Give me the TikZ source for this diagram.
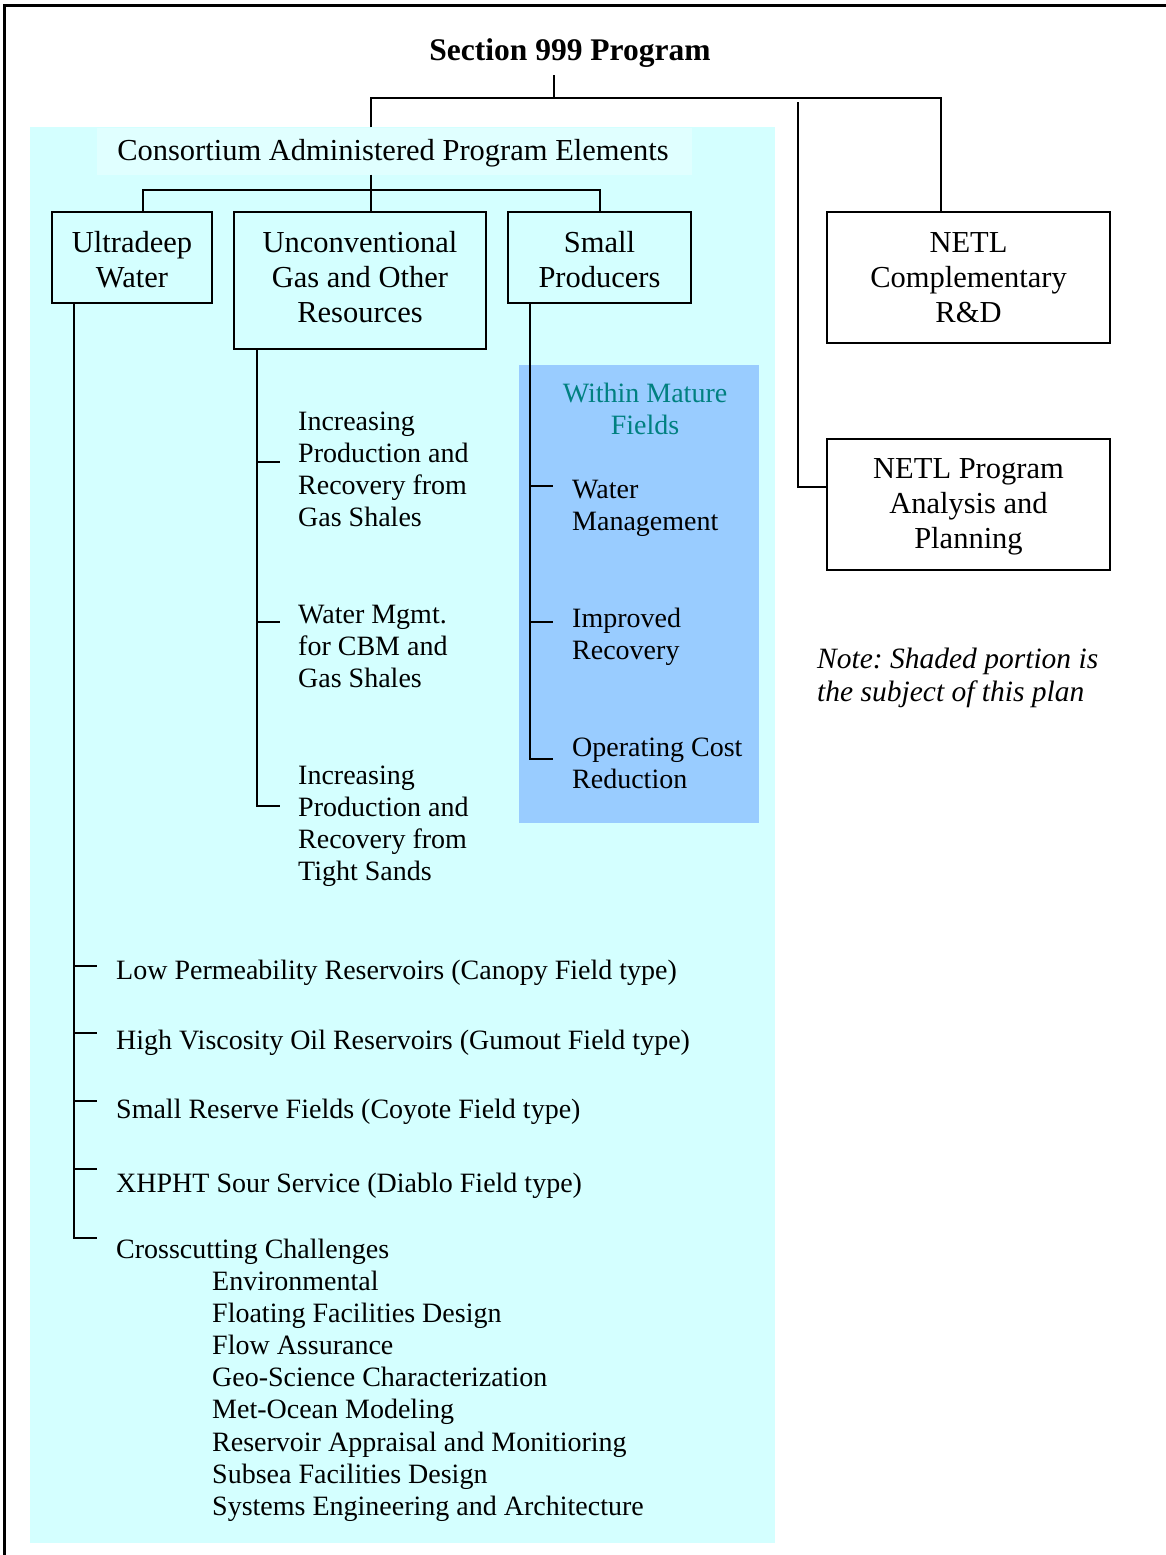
\documentclass[tikz,border=0pt]{standalone}
\usepackage{fontspec}
\setmainfont{Liberation Serif}
\frenchspacing
\definecolor{shadecyan}{RGB}{212,255,255}
\definecolor{labelcyan}{RGB}{224,255,255}
\definecolor{maturefill}{RGB}{153,204,255}
\definecolor{maturetext}{RGB}{0,128,128}
% multi-line text blocks: baseline of the block = baseline of its first line
\newcommand\linesL[1]{\begin{tabular}[t]{@{}l@{}}#1\end{tabular}}
\newcommand\linesC[1]{\begin{tabular}[t]{@{}c@{}}#1\end{tabular}}

\begin{document}
\begin{tikzpicture}[x=1pt,y=-1pt,
  every node/.style={inner sep=0pt, font=\fontsize{30.5}{35}\selectfont},
  conn/.style={line width=2pt},
  orgbox/.style={draw, line width=2.2pt},
  boxtext/.style={anchor=base, font=\fontsize{30.5}{35}\selectfont},
  itemtext/.style={anchor=base west, font=\fontsize{28}{32.2}\selectfont}]

\useasboundingbox (0,0) rectangle (1166,1555);
\clip (0,0) rectangle (1166,1555);

% shaded regions
\fill[shadecyan] (30,127) rectangle (775,1543);
\node[fill=labelcyan, minimum width=595pt, minimum height=47pt] (cons) at (394.5,151) {};
\node[anchor=base] (conslbl) at (393,160) {Consortium Administered Program Elements};
\fill[maturefill] (519,365) rectangle (759,823);

% outer frame
\draw[line width=3pt] (4.5,5.5) rectangle (1180,1570);

% title
\node[anchor=base, font=\bfseries\fontsize{31.5}{34}\selectfont, inner ysep=8pt] (title) at (570,60) {Section 999 Program};

% boxes
\node[orgbox, minimum width=160pt, minimum height=91pt] (ultra) at (132,257.5) {};
\node[orgbox, minimum width=252pt, minimum height=137pt] (uncon) at (360,280.5) {};
\node[orgbox, minimum width=183pt, minimum height=91pt] (small) at (599.5,257.5) {};
\node[orgbox, minimum width=283pt, minimum height=131pt] (netlc) at (968.5,277.5) {};
\node[orgbox, minimum width=283pt, minimum height=131pt] (netlp) at (968.5,504.5) {};
\node[boxtext] (ultraT) at (132,252) {\linesC{Ultradeep\\Water}};
\node[boxtext] (unconT) at (360,252) {\linesC{Unconventional\\Gas and Other\\Resources}};
\node[boxtext] (smallT) at (599.5,252) {\linesC{Small\\Producers}};
\node[boxtext] (netlcT) at (968.5,252) {\linesC{NETL\\Complementary\\R\&D}};
\node[boxtext] (netlpT) at (968.5,478) {\linesC{NETL Program\\Analysis and\\Planning}};

% top-level connectors
\coordinate (j0) at (554,98);
\coordinate (busL) at (371,98);
\coordinate (busR) at (941,98);
\coordinate (busM) at (798,102);
\coordinate (kP) at (798,487);
\draw[conn] (title.south -| j0) -- (j0);
\draw[conn] (cons.north -| busL) -- (busL) -- (busR) -- (netlc.north -| busR);
\draw[conn] (busM) -- (kP) -- (kP -| netlp.west);

% second-level connectors
\coordinate (b2) at (371,190);
\coordinate (b2l) at (143,190);
\coordinate (b2r) at (600,190);
\draw[conn] (cons.south -| b2) -- (b2);
\draw[conn] (ultra.north -| b2l) -- (b2l) -- (b2r) -- (small.north -| b2r);
\draw[conn] (b2) -- (uncon.north -| b2);

% Unconventional gas branch
\node[itemtext] (gs) at (298,430) {\linesL{Increasing\\Production and\\Recovery from\\Gas Shales}};
\node[itemtext] (cbm) at (298,623) {\linesL{Water Mgmt.\\for CBM and\\Gas Shales}};
\node[itemtext] (ts) at (298,784) {\linesL{Increasing\\Production and\\Recovery from\\Tight Sands}};
\coordinate (uT) at (257,806);
\draw[conn] (uncon.south -| uT) -- (uT) -- ++(23,0);
\draw[conn] (257,462) -- ++(23,0);
\draw[conn] (257,622) -- ++(23,0);

% Small producers branch
\node[anchor=base, text=maturetext, font=\fontsize{28}{32.2}\selectfont] (mature) at (645,402) {\linesC{Within Mature\\Fields}};
\node[itemtext] (wm) at (572,498) {\linesL{Water\\Management}};
\node[itemtext] (ir) at (572,627) {\linesL{Improved\\Recovery}};
\node[itemtext] (oc) at (572,756) {\linesL{Operating Cost\\Reduction}};
\coordinate (sT) at (530,759);
\draw[conn] (small.south -| sT) -- (sT) -- ++(23,0);
\draw[conn] (530,486) -- ++(23,0);
\draw[conn] (530,622) -- ++(23,0);

% Ultradeep water branch
\node[itemtext] (lp) at (116,979) {Low Permeability Reservoirs (Canopy Field type)};
\node[itemtext] (hv) at (116,1049) {High Viscosity Oil Reservoirs (Gumout Field type)};
\node[itemtext] (sr) at (116,1118) {Small Reserve Fields (Coyote Field type)};
\node[itemtext] (xh) at (116,1192) {XHPHT Sour Service (Diablo Field type)};
\node[itemtext] (cc) at (116,1258) {Crosscutting Challenges};
\node[itemtext] (ccl) at (212,1290) {\linesL{Environmental\\Floating Facilities Design\\Flow Assurance\\Geo-Science Characterization\\Met-Ocean Modeling\\Reservoir Appraisal and Monitioring\\Subsea Facilities Design\\Systems Engineering and Architecture}};
\coordinate (wT) at (74,1238);
\draw[conn] (ultra.south -| wT) -- (wT) -- ++(23,0);
\foreach \ty in {966,1033,1101,1169}
  \draw[conn] (74,\ty) -- ++(23,0);

% note
\node[anchor=base west, font=\itshape\fontsize{29.5}{33}\selectfont] (note) at (817,668) {\linesL{Note: Shaded portion is\\the subject of this plan}};

\end{tikzpicture}
\end{document}
